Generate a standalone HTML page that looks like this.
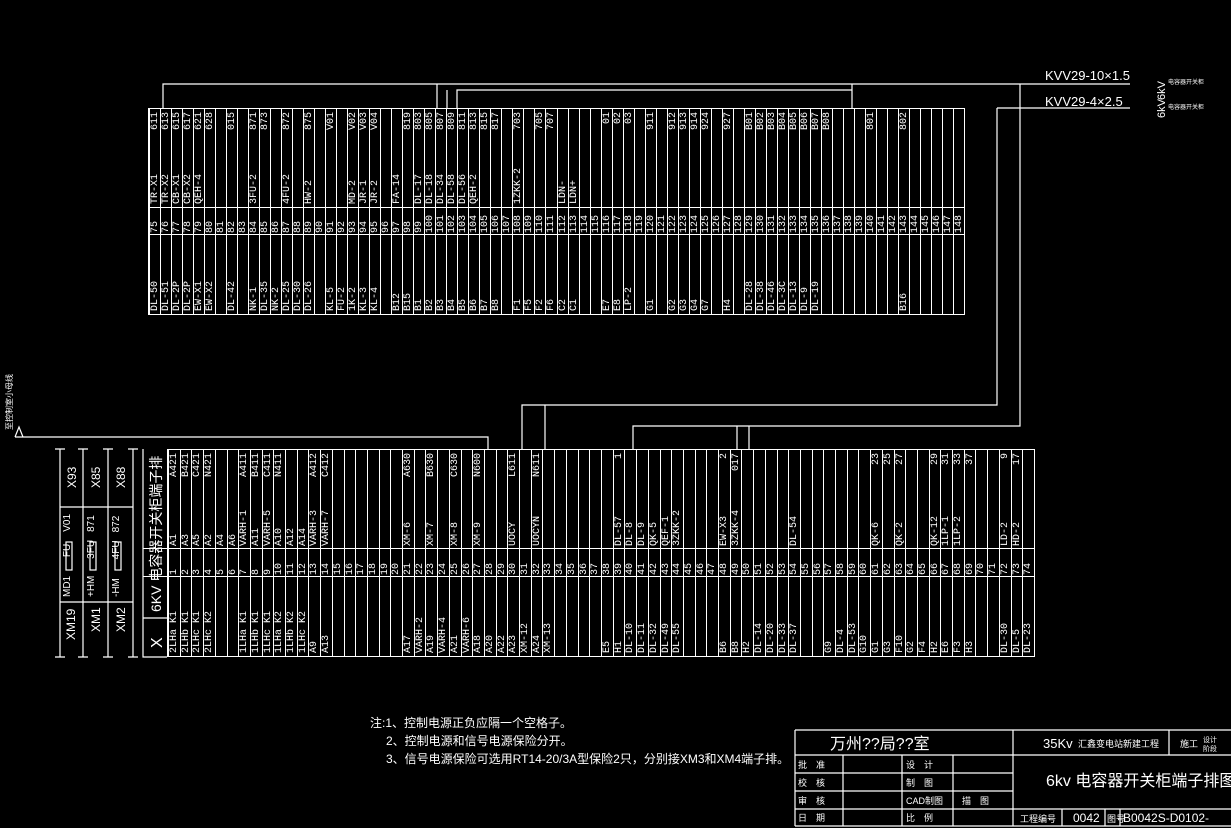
<!DOCTYPE html><html><head><meta charset="utf-8"><style>
body{margin:0;background:#000;width:1231px;height:828px;overflow:hidden;position:relative;font-family:"Liberation Mono","Noto Sans CJK SC",monospace;color:#fff}
.tb{position:absolute;display:grid;border:1px solid #fff;box-sizing:border-box}
.tb p{margin:0;position:relative;border-left:1px solid #fff;height:100%}
.tb p>*{position:absolute;left:0;width:100%;writing-mode:vertical-rl;transform:rotate(180deg);font-size:10px;line-height:11px;text-decoration:none;font-style:normal;font-weight:normal;font-family:"Liberation Mono",monospace;white-space:nowrap;color:#fff;text-align:left}
.tb a{bottom:110px}.tb kbd{top:3px}.tb b{bottom:81px}.tb em{bottom:3px}
.hl{position:absolute;height:1px;background:#fff}
#t1{left:148px;top:108px;width:817px;height:207px;grid-template-columns:repeat(74,1fr)}
#t2{left:167px;top:449px;width:868px;height:208px;grid-template-columns:repeat(74,1fr)}
</style></head><body>
<div class="tb" id="t1">
<p><a>TR-X1</a><kbd>611</kbd><b>75</b><em>DL-50</em></p>
<p><a>TR-X2</a><kbd>613</kbd><b>76</b><em>DL-51</em></p>
<p><a>CB-X1</a><kbd>615</kbd><b>77</b><em>DL-2P</em></p>
<p><a>CB-X2</a><kbd>617</kbd><b>78</b><em>DL-2P</em></p>
<p><a>QEH-4</a><kbd>621</kbd><b>79</b><em>EW-X1</em></p>
<p><kbd>628</kbd><b>80</b><em>EW-X2</em></p>
<p><b>81</b></p>
<p><kbd>015</kbd><b>82</b><em>DL-42</em></p>
<p><b>83</b></p>
<p><a>3FU-2</a><kbd>871</kbd><b>84</b><em>NK-1</em></p>
<p><kbd>873</kbd><b>85</b><em>DL-35</em></p>
<p><b>86</b><em>NK-2</em></p>
<p><a>4FU-2</a><kbd>872</kbd><b>87</b><em>DL-25</em></p>
<p><b>88</b><em>DL-30</em></p>
<p><a>HW-2</a><kbd>875</kbd><b>89</b><em>DL-26</em></p>
<p><b>90</b></p>
<p><kbd>V01</kbd><b>91</b><em>KL-5</em></p>
<p><b>92</b><em>FU-2</em></p>
<p><a>MD-2</a><kbd>V02</kbd><b>93</b><em>1K-2</em></p>
<p><a>JR-1</a><kbd>V03</kbd><b>94</b><em>KL-3</em></p>
<p><a>JR-2</a><kbd>V04</kbd><b>95</b><em>KL-4</em></p>
<p><b>96</b></p>
<p><a>FA-14</a><b>97</b><em>B12</em></p>
<p><kbd>819</kbd><b>98</b><em>B15</em></p>
<p><a>DL-17</a><kbd>803</kbd><b>99</b><em>B1</em></p>
<p><a>DL-18</a><kbd>805</kbd><b>100</b><em>B2</em></p>
<p><a>DL-34</a><kbd>807</kbd><b>101</b><em>B3</em></p>
<p><a>DL-58</a><kbd>809</kbd><b>102</b><em>B4</em></p>
<p><a>DL-56</a><kbd>811</kbd><b>103</b><em>B5</em></p>
<p><a>QEH-2</a><kbd>813</kbd><b>104</b><em>B6</em></p>
<p><kbd>815</kbd><b>105</b><em>B7</em></p>
<p><kbd>817</kbd><b>106</b><em>B8</em></p>
<p><b>107</b></p>
<p><a>1ZKK-2</a><kbd>703</kbd><b>108</b><em>F1</em></p>
<p><b>109</b><em>F5</em></p>
<p><kbd>705</kbd><b>110</b><em>F2</em></p>
<p><kbd>707</kbd><b>111</b><em>F6</em></p>
<p><a>LDN-</a><b>112</b><em>C2</em></p>
<p><a>LDN+</a><b>113</b><em>C1</em></p>
<p><b>114</b></p>
<p><b>115</b></p>
<p><kbd>01</kbd><b>116</b><em>E7</em></p>
<p><kbd>02</kbd><b>117</b><em>E8</em></p>
<p><kbd>03</kbd><b>118</b><em>LP-2</em></p>
<p><b>119</b></p>
<p><kbd>911</kbd><b>120</b><em>G1</em></p>
<p><b>121</b></p>
<p><kbd>912</kbd><b>122</b><em>G2</em></p>
<p><kbd>913</kbd><b>123</b><em>G3</em></p>
<p><kbd>914</kbd><b>124</b><em>G4</em></p>
<p><kbd>924</kbd><b>125</b><em>G7</em></p>
<p><b>126</b></p>
<p><kbd>927</kbd><b>127</b><em>H4</em></p>
<p><b>128</b></p>
<p><kbd>B01</kbd><b>129</b><em>DL-28</em></p>
<p><kbd>B02</kbd><b>130</b><em>DL-38</em></p>
<p><kbd>B03</kbd><b>131</b><em>DL-46</em></p>
<p><kbd>B04</kbd><b>132</b><em>DL-3C</em></p>
<p><kbd>B05</kbd><b>133</b><em>DL-13</em></p>
<p><kbd>B06</kbd><b>134</b><em>DL-9</em></p>
<p><kbd>B07</kbd><b>135</b><em>DL-19</em></p>
<p><kbd>B08</kbd><b>136</b></p>
<p><b>137</b></p>
<p><b>138</b></p>
<p><b>139</b></p>
<p><kbd>801</kbd><b>140</b></p>
<p><b>141</b></p>
<p><b>142</b></p>
<p><kbd>802</kbd><b>143</b><em>B16</em></p>
<p><b>144</b></p>
<p><b>145</b></p>
<p><b>146</b></p>
<p><b>147</b></p>
<p><b>148</b></p>
</div>
<div class="hl" style="left:148px;top:207px;width:817px"></div>
<div class="hl" style="left:148px;top:234px;width:817px"></div>

<div class="tb" id="t2">
<p><a>A1</a><kbd>A421</kbd><b>1</b><em>2LHa K1</em></p>
<p><a>A3</a><kbd>B421</kbd><b>2</b><em>2LHb K1</em></p>
<p><a>A5</a><kbd>C421</kbd><b>3</b><em>2LHc K1</em></p>
<p><a>A2</a><kbd>N421</kbd><b>4</b><em>2LHc K2</em></p>
<p><a>A4</a><b>5</b></p>
<p><a>A6</a><b>6</b></p>
<p><a>VARH-1</a><kbd>A411</kbd><b>7</b><em>1LHa K1</em></p>
<p><a>A11</a><kbd>B411</kbd><b>8</b><em>1LHb K1</em></p>
<p><a>VARH-5</a><kbd>C411</kbd><b>9</b><em>1LHc K1</em></p>
<p><a>A10</a><kbd>N411</kbd><b>10</b><em>1LHa K2</em></p>
<p><a>A12</a><b>11</b><em>1LHb K2</em></p>
<p><a>A14</a><b>12</b><em>1LHc K2</em></p>
<p><a>VARH-3</a><kbd>A412</kbd><b>13</b><em>A9</em></p>
<p><a>VARH-7</a><kbd>C412</kbd><b>14</b><em>A13</em></p>
<p><b>15</b></p><p><b>16</b></p><p><b>17</b></p><p><b>18</b></p><p><b>19</b></p><p><b>20</b></p>
<p><a>XM-6</a><kbd>A630</kbd><b>21</b><em>A17</em></p>
<p><b>22</b><em>VARH-2</em></p>
<p><a>XM-7</a><kbd>B630</kbd><b>23</b><em>A19</em></p>
<p><b>24</b><em>VARH-4</em></p>
<p><a>XM-8</a><kbd>C630</kbd><b>25</b><em>A21</em></p>
<p><b>26</b><em>VARH-6</em></p>
<p><a>XM-9</a><kbd>N600</kbd><b>27</b><em>A18</em></p>
<p><b>28</b><em>A20</em></p>
<p><b>29</b><em>A22</em></p>
<p><a>UOCY</a><kbd>L611</kbd><b>30</b><em>A23</em></p>
<p><b>31</b><em>XM-12</em></p>
<p><a>UOCYN</a><kbd>N611</kbd><b>32</b><em>A24</em></p>
<p><b>33</b><em>XM-13</em></p>
<p><b>34</b></p><p><b>35</b></p><p><b>36</b></p><p><b>37</b></p>
<p><b>38</b><em>E5</em></p>
<p><a>DL-57</a><kbd>1</kbd><b>39</b><em>H1</em></p>
<p><a>DL-8</a><b>40</b><em>DL-10</em></p>
<p><a>DL-9</a><b>41</b><em>DL-11</em></p>
<p><a>QK-5</a><b>42</b><em>DL-32</em></p>
<p><a>QEF-1</a><b>43</b><em>DL-49</em></p>
<p><a>3ZKK-2</a><b>44</b><em>DL-55</em></p>
<p><b>45</b></p><p><b>46</b></p><p><b>47</b></p>
<p><a>EW-X3</a><kbd>2</kbd><b>48</b><em>B6</em></p>
<p><a>3ZKK-4</a><kbd>017</kbd><b>49</b><em>B8</em></p>
<p><b>50</b><em>H2</em></p>
<p><b>51</b><em>DL-14</em></p>
<p><b>52</b><em>DL-20</em></p>
<p><b>53</b><em>DL-33</em></p>
<p><a>DL-54</a><b>54</b><em>DL-37</em></p>
<p><b>55</b></p><p><b>56</b></p>
<p><b>57</b><em>G9</em></p>
<p><b>58</b><em>DL-4</em></p>
<p><b>59</b><em>DL-53</em></p>
<p><b>60</b><em>G10</em></p>
<p><a>QK-6</a><kbd>23</kbd><b>61</b><em>G1</em></p>
<p><kbd>25</kbd><b>62</b><em>G3</em></p>
<p><a>QK-2</a><kbd>27</kbd><b>63</b><em>F10</em></p>
<p><b>64</b><em>G2</em></p>
<p><b>65</b><em>F4</em></p>
<p><a>QK-12</a><kbd>29</kbd><b>66</b><em>H2</em></p>
<p><a>1LP-1</a><kbd>31</kbd><b>67</b><em>E6</em></p>
<p><a>1LP-2</a><kbd>33</kbd><b>68</b><em>F3</em></p>
<p><kbd>37</kbd><b>69</b><em>H3</em></p>
<p><b>70</b></p><p><b>71</b></p>
<p><a>LD-2</a><kbd>9</kbd><b>72</b><em>DL-30</em></p>
<p><a>HD-2</a><kbd>17</kbd><b>73</b><em>DL-5</em></p>
<p><b>74</b><em>DL-23</em></p>
</div>
<div class="hl" style="left:143px;top:548px;width:892px"></div>
<div class="hl" style="left:143px;top:576px;width:892px"></div>

<svg width="1231" height="828" style="position:absolute;left:0;top:0" stroke="#fff" stroke-width="1.2" fill="none" font-family="Liberation Sans,Noto Sans CJK SC,sans-serif">
<path d="M163 108V84H1130M437 108V84M447 108V90M457 108V90H852M852 84V108M997 108H1130M997 108V405H522V449M545 405V449M1020 84V426H633V449M737 426V449M749 426V449"/>
<path d="M15 437H488V449M15 437l4-10l4 10"/>
<path d="M143 449V657H167M143 618H167"/>
<path d="M60 449V657M83 449V657M108 449V657M133 449V657M55 449h10M78 449h10M103 449h10M128 449h10M55 657h10M78 657h10M103 657h10M128 657h10"/>
<path d="M60 507H133M60 602H133"/>
<rect x="66" y="542" width="6" height="28"/><rect x="90" y="542" width="6" height="28"/><rect x="115" y="542" width="6" height="28"/>
<g fill="#fff" stroke="none" font-size="12">
<text transform="translate(76,488) rotate(-90)">X93</text>
<text transform="translate(100,488) rotate(-90)">X85</text>
<text transform="translate(125,488) rotate(-90)">X88</text>
<text transform="translate(75,640) rotate(-90)">XM19</text>
<text transform="translate(100,632) rotate(-90)">XM1</text>
<text transform="translate(125,632) rotate(-90)">XM2</text>
<text font-size="10" transform="translate(70,597) rotate(-90)">MD1 <tspan dx="16">FU</tspan><tspan dx="12">V01</tspan></text>
<text font-size="10" transform="translate(94,597) rotate(-90)">+HM <tspan dx="14">3FU</tspan><tspan dx="8">871</tspan></text>
<text font-size="10" transform="translate(119,597) rotate(-90)">-HM <tspan dx="16">4FU</tspan><tspan dx="8">872</tspan></text>
<text font-size="14" transform="translate(161,612) rotate(-90)">6KV 电容器开关柜端子排</text>
<text font-size="16" transform="translate(162,648) rotate(-90)">X</text>
<text font-size="8" transform="translate(12,430) rotate(-90)">至控制室小母线</text>
<text x="1045" y="80" font-size="13">KVV29-10×1.5</text>
<text x="1045" y="106" font-size="13">KVV29-4×2.5</text>
<text font-size="11" transform="translate(1165,100) rotate(-90)">6kV</text>
<text font-size="11" transform="translate(1165,118) rotate(-90)">6kV</text>
<text x="1168" y="84" font-size="6">电容器开关柜</text>
<text x="1168" y="109" font-size="6">电容器开关柜</text>
<text x="370" y="727" font-size="12">注:1、控制电源正负应隔一个空格子。</text>
<text x="386" y="745" font-size="12">2、控制电源和信号电源保险分开。</text>
<text x="386" y="763" font-size="12">3、信号电源保险可选用RT14-20/3A型保险2只，分别接XM3和XM4端子排。</text>
</g>
<path d="M795 730H1231M795 755H1013M795 773H1013M795 791H1013M795 809H1231M795 826H1231M795 730V826M843 755V826M902 755V826M953 755V826M1013 730V826M1013 755H1231M1169 730V755M1062 809V826M1105 809V826M1120 809V826"/>
<g fill="#fff" stroke="none" font-size="9">
<text x="830" y="749" font-size="16">万州??局??室</text>
<text x="1043" y="748" font-size="13">35Kv</text><text x="1078" y="747">汇鑫变电站新建工程</text>
<text x="1180" y="747">施工</text><text x="1203" y="742" font-size="7">设计</text><text x="1203" y="751" font-size="7">阶段</text>
<text x="798" y="768">批　准</text><text x="798" y="786">校　核</text><text x="798" y="804">审　核</text><text x="798" y="821">日　期</text>
<text x="906" y="768">设　计</text><text x="906" y="786">制　图</text><text x="906" y="804">CAD制图</text><text x="906" y="821">比　例</text>
<text x="962" y="804">描　图</text>
<text x="1046" y="786" font-size="16">6kv 电容器开关柜端子排图</text>
<text x="1020" y="822">工程编号</text><text x="1073" y="822" font-size="12">0042</text><text x="1107" y="822">图号</text>
<text x="1123" y="822" font-size="12">B0042S-D0102-</text>
</g>
</svg>
</body></html>
